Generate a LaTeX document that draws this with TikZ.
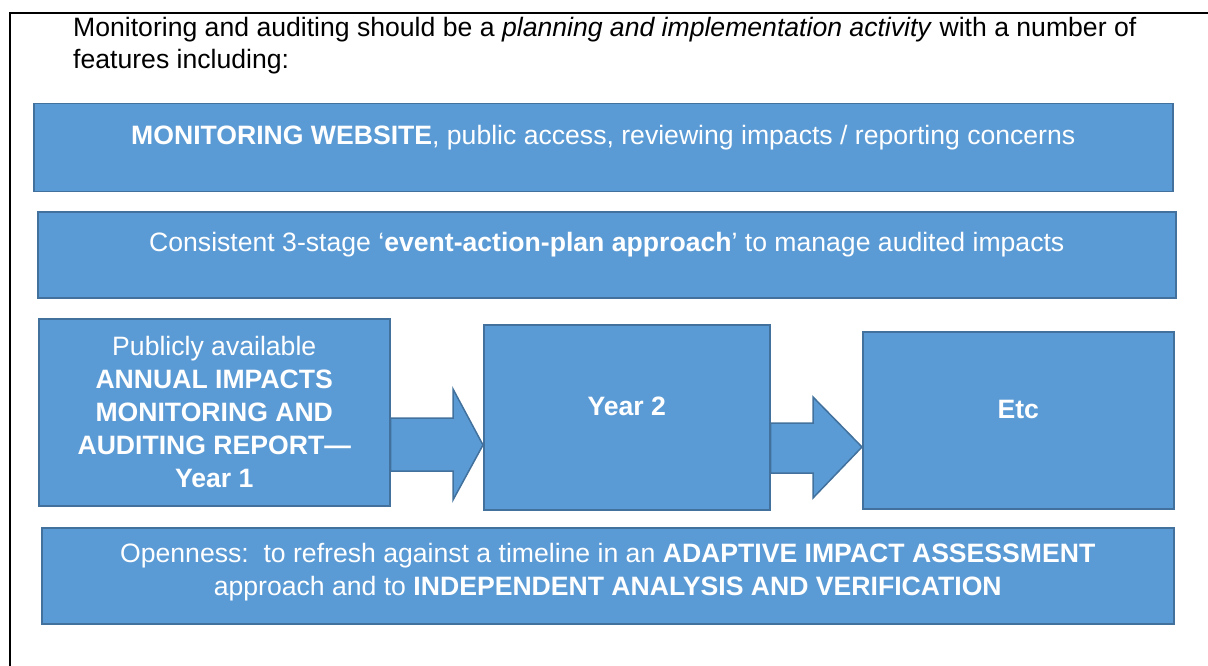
\documentclass[tikz,border=0pt]{standalone}
\usepackage{fontspec}
\setmainfont{Liberation Sans}
\usetikzlibrary{positioning,calc}
\definecolor{boxfill}{HTML}{5B9BD5}
\definecolor{boxline}{HTML}{41719C}
\tikzset{
  box/.style={draw=boxline, fill=boxfill, line width=1.5pt, inner sep=0pt, anchor=north west},
  boxtext/.style={text=white, align=center, inner sep=0pt, font=\fontsize{26.6}{33}\selectfont},
  introtext/.style={anchor=base west, inner sep=0pt, font=\fontsize{26.6}{32}\selectfont},
  blockarrow/.style={draw=boxline, fill=boxfill, line width=1.5pt, line join=miter},
}
\begin{document}
\begin{tikzpicture}[x=1pt, y=-1pt]
\useasboundingbox (0,0) rectangle (1208,666);
% frame
\draw[line width=2pt] (10,666) -- (10,13) -- (1208,13);
\node[introtext] (introa) at (73,37) {Monitoring and auditing should be a \emph{planning and implementation activity} with a number of};
\node[introtext] (introb) at (73,69) {features including:};
% boxes
\node[box, minimum width=1139pt, minimum height=88pt] (web) at (33,103) {};
\node[box, minimum width=1138pt, minimum height=86pt] (plan) at (37,211) {};
\node[box, minimum width=351pt, minimum height=187pt] (yearone) at (38,318) {};
\node[box, minimum width=286pt, minimum height=185pt] (yeartwo) at (483,324) {};
\node[box, minimum width=311pt, minimum height=177pt] (etc) at (862,331) {};
\node[box, minimum width=1132pt, minimum height=96pt] (open) at (41,527) {};
% texts
\node[boxtext] (webtext) at ([yshift=10pt]web.center) {\textbf{MONITORING WEBSITE}, public access, reviewing impacts / reporting concerns};
\node[boxtext] (plantext) at ([yshift=10pt]plan.center) {Consistent 3-stage ‘\textbf{event-action-plan approach}’ to manage audited impacts};
\node[boxtext] (yearonetext) at (yearone.center) {Publicly available\\\textbf{ANNUAL IMPACTS}\\\textbf{MONITORING AND}\\\textbf{AUDITING REPORT—}\\\textbf{Year 1}};
\node[boxtext] (yeartwotext) at ([yshift=11pt]yeartwo.center) {\textbf{Year 2}};
\node[boxtext] (etctext) at ([yshift=11pt]etc.center) {\textbf{Etc}};
\node[boxtext] (opentext) at ([yshift=4pt]open.center) {Openness:\ \ to refresh against a timeline in an \textbf{ADAPTIVE IMPACT ASSESSMENT}\\approach and to \textbf{INDEPENDENT ANALYSIS AND VERIFICATION}};
% arrows
\draw[blockarrow] (yearone.east |- 0,418) -- (453,418) -- (453,389) -- (yeartwo.west |- 0,445)
  -- (453,500) -- (453,471) -- (yearone.east |- 0,471) -- cycle;
\draw[blockarrow] (yeartwo.east |- 0,423) -- (813,423) -- (813,397) -- (etc.west |- 0,447)
  -- (813,498) -- (813,473) -- (yeartwo.east |- 0,473) -- cycle;
\end{tikzpicture}
\end{document}
